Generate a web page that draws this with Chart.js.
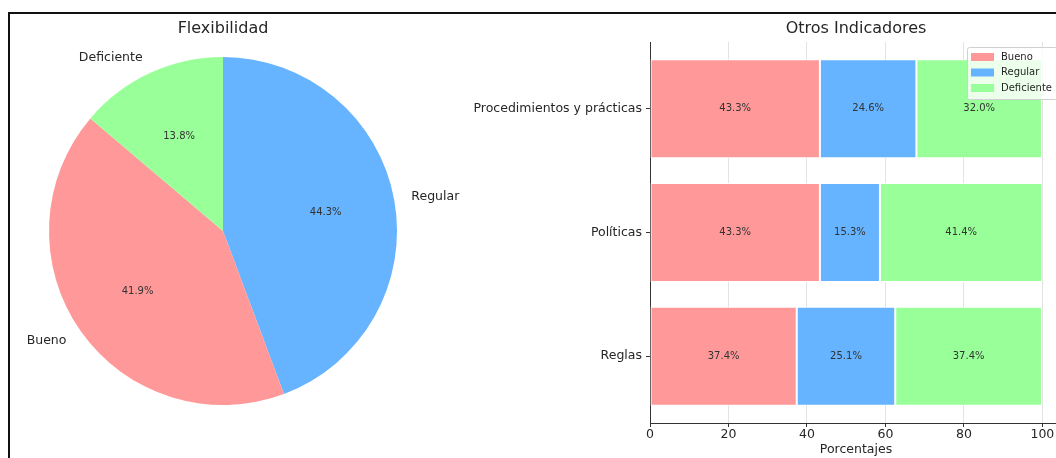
<!DOCTYPE html>
<html>
<head>
<meta charset="utf-8">
<script src="https://cdn.jsdelivr.net/npm/chart.js@4.4.1/dist/chart.umd.min.js"></script>
<style>
  html, body { margin:0; padding:0; background:#fff; overflow:hidden; width:1056px; height:458px; }
  #pieChart { position:absolute; left:0; top:0; }
  #barChart { position:absolute; left:460px; top:0; }
  #frame { position:absolute; left:8px; top:12px; width:1200px; height:600px;
           border-top:2px solid #111; border-left:2px solid #111; pointer-events:none; }
</style>
</head>
<body>
<canvas id="pieChart" width="470" height="458"></canvas>
<canvas id="barChart" width="610" height="458"></canvas>
<div id="frame"></div>
<script>
// pie data (clockwise from the top)
const pieLabels = ['Regular', 'Bueno', 'Deficiente']
const pieValues = [44.3, 41.9, 13.8]
const pieColors = ['#66b3ff', '#ff9999', '#99ff99']

// stacked bars
const barCats = ['Procedimientos y prácticas', 'Políticas', 'Reglas']
const bueno = [43.3, 43.3, 37.4]
const regular = [24.6, 15.3, 25.1]
const deficiente = [32.0, 41.4, 37.4]
const xTicks = [0, 20, 40, 60, 80, 100]

const FONT = 'DejaVu Sans'
const txt = '#262626'

Chart.defaults.font.family = FONT
Chart.defaults.animation = false

// labels outside the pie + percentages inside
const pieText = {
  id: 'pieText',
  afterDatasetsDraw(chart) {
    const ctx = chart.ctx
    const area = chart.chartArea
    ctx.save()
    ctx.fillStyle = txt
    ctx.textBaseline = 'middle'
    ctx.textAlign = 'center'
    ctx.font = `16px "${FONT}"`
    ctx.fillText('Flexibilidad', (area.left + area.right) / 2, area.top - 28)

    const arcs = chart.getDatasetMeta(0).data
    arcs.forEach((arc, i) => {
      const p = arc.getProps(['x', 'y', 'startAngle', 'endAngle', 'outerRadius'], true)
      const mid = (p.startAngle + p.endAngle) / 2
      const c = Math.cos(mid), s = Math.sin(mid)
      ctx.font = `12.5px "${FONT}"`
      ctx.textAlign = c >= 0 ? 'left' : 'right'
      ctx.fillText(pieLabels[i], p.x + c * p.outerRadius * 1.1, p.y + s * p.outerRadius * 1.1)
      ctx.font = `10px "${FONT}"`
      ctx.textAlign = 'center'
      ctx.fillStyle = '#333'
      ctx.fillText(pieValues[i].toFixed(1) + '%', p.x + c * p.outerRadius * 0.6, p.y + s * p.outerRadius * 0.6)
      ctx.fillStyle = txt
    })
    ctx.restore()
  }
}

new Chart(document.getElementById('pieChart'), {
  type: 'pie',
  data: {
    labels: pieLabels,
    datasets: [{
      data: pieValues,
      backgroundColor: pieColors,
      borderWidth: 0,
    }],
  },
  options: {
    responsive: false,
    rotation: 0,
    layout: { padding: { left: 49, top: 57, right: 73, bottom: 53 } },
    plugins: { legend: { display: false }, tooltip: { enabled: false } },
  },
  plugins: [pieText],
})

// bar value labels, title and the legend box
const barText = {
  id: 'barText',
  afterDatasetsDraw(chart) {
    const ctx = chart.ctx
    const area = chart.chartArea
    ctx.save()
    ctx.textBaseline = 'middle'
    ctx.textAlign = 'center'
    ctx.fillStyle = txt
    ctx.font = `16px "${FONT}"`
    ctx.fillText('Otros Indicadores', (area.left + area.right) / 2, area.top - 13)

    ctx.font = `10px "${FONT}"`
    ctx.fillStyle = '#333'
    chart.data.datasets.forEach((ds, di) => {
      chart.getDatasetMeta(di).data.forEach((bar, i) => {
        const p = bar.getProps(['x', 'y', 'base'], true)
        ctx.fillText(ds.data[i].x.toFixed(1) + '%', (p.x + p.base) / 2, p.y)
      })
    })

    // legend, upper right
    ctx.font = `10px "${FONT}"`
    const names = chart.data.datasets.map(d => d.label)
    const tw = Math.max(...names.map(n => ctx.measureText(n).width))
    const w = 4 + 23 + 7 + tw + 5
    const h = 52
    const right = area.right - 5
    const left = right - w
    const top = area.top + 5
    ctx.fillStyle = 'rgba(255,255,255,0.8)'
    ctx.strokeStyle = '#d0d0d0'
    ctx.lineWidth = 1
    ctx.beginPath()
    ctx.roundRect(left + 0.5, top + 0.5, w, h, 2)
    ctx.fill()
    ctx.stroke()
    ctx.textAlign = 'left'
    chart.data.datasets.forEach((ds, di) => {
      const cy = top + 10 + di * 15.5
      ctx.fillStyle = ds.backgroundColor
      ctx.fillRect(left + 4, cy - 4, 23, 8)
      ctx.fillStyle = txt
      ctx.fillText(ds.label, left + 34, cy)
    })
    ctx.restore()
  }
}

const toPts = arr => arr.map((v, i) => ({ x: v, y: i }))

new Chart(document.getElementById('barChart'), {
  type: 'bar',
  data: {
    datasets: [
      { label: 'Bueno', data: toPts(bueno), backgroundColor: '#ff9999' },
      { label: 'Regular', data: toPts(regular), backgroundColor: '#66b3ff' },
      { label: 'Deficiente', data: toPts(deficiente), backgroundColor: '#99ff99' },
    ],
  },
  options: {
    responsive: false,
    indexAxis: 'y',
    datasets: {
      bar: { barPercentage: 0.8, categoryPercentage: 1, borderWidth: 1, borderColor: '#fff', borderSkipped: false },
    },
    layout: { padding: { top: 42, right: 8, left: 0, bottom: 0 } },
    scales: {
      x: {
        type: 'linear',
        stacked: true,
        min: 0,
        max: 105,
        afterBuildTicks: s => { s.ticks = xTicks.map(v => ({ value: v })) },
        afterFit: s => { s.height = 35 },
        ticks: { color: txt, font: { size: 12.5 }, padding: 0, maxRotation: 0 },
        grid: { color: '#e3e3e3', tickColor: '#333', tickLength: 4 },
        border: { display: true, color: '#333', width: 1 },
        title: { display: true, text: 'Porcentajes', color: txt, font: { size: 12.5 }, padding: { top: 0, bottom: 1 } },
      },
      y: {
        type: 'linear',
        stacked: true,
        reverse: true,
        offset: false,
        min: -0.54,
        max: 2.54,
        afterBuildTicks: s => { s.ticks = barCats.map((c, i) => ({ value: i })) },
        afterFit: s => { s.width = 190 },
        ticks: { color: txt, font: { size: 12.5 }, padding: 4, callback: v => barCats[v] },
        grid: { offset: false, drawOnChartArea: false, tickColor: '#333', tickLength: 4 },
        border: { display: true, color: '#333', width: 1 },
      },
    },
    plugins: { legend: { display: false }, tooltip: { enabled: false } },
  },
  plugins: [barText],
})
</script>
</body>
</html>
